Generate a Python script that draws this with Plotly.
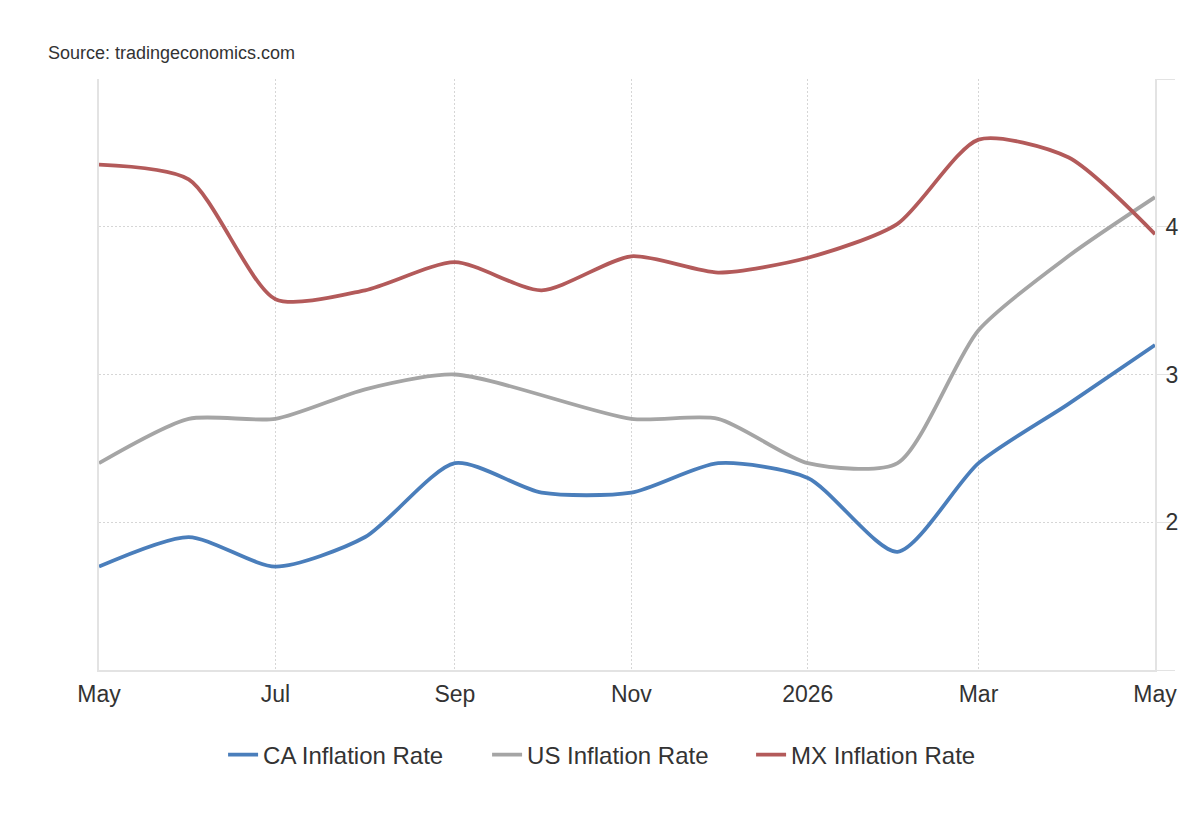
import plotly.graph_objects as go

# monthly observations, May 2025 - May 2026
months = ['2025-05-01', '2025-06-01', '2025-07-01', '2025-08-01', '2025-09-01',
          '2025-10-01', '2025-11-01', '2025-12-01', '2026-01-01', '2026-02-01',
          '2026-03-01', '2026-04-01', '2026-05-01']
ca_rate = [1.7, 1.9, 1.7, 1.9, 2.4, 2.2, 2.2, 2.4, 2.3, 1.8, 2.4, 2.8, 3.2]
us_rate = [2.4, 2.7, 2.7, 2.9, 3.0, None, 2.7, 2.7, 2.4, 2.4, 3.3, 3.8, 4.2]
mx_rate = [4.42, 4.32, 3.51, 3.57, 3.76, 3.57, 3.80, 3.69, 3.79, 4.02, 4.59, 4.47, 3.95]

tick_dates = ['2025-05-01', '2025-07-01', '2025-09-01', '2025-11-01',
              '2026-01-01', '2026-03-01', '2026-05-01']
tick_labels = ['May', 'Jul', 'Sep', 'Nov', '2026', 'Mar', 'May']
y_ticks = [1, 2, 3, 4, 5]
y_labels = ['', '2', '3', '4', '']

font_name = 'Liberation Sans, Arial, sans-serif'
text_color = '#333333'
grid_color = '#d6d6d6'

fig = go.Figure()
for name, vals, color in [('CA Inflation Rate', ca_rate, '#4a7ebb'),
                          ('US Inflation Rate', us_rate, '#a5a5a5'),
                          ('MX Inflation Rate', mx_rate, '#b35a5a')]:
    fig.add_trace(go.Scatter(
        x=months, y=vals, name=name, mode='lines', connectgaps=True,
        line=dict(color=color, width=3.8, shape='spline', smoothing=0.7),
    ))

# page has an 8px body margin, so everything is shifted by that
fig.update_layout(
    width=1200, height=820,
    margin=dict(l=91, r=53, t=71, b=158),
    paper_bgcolor='white', plot_bgcolor='white',
    font=dict(family=font_name, color=text_color, size=20),
    title=dict(text='Source: tradingeconomics.com', x=40 / 1200, xref='container',
               xanchor='left', y=1 - 45 / 820, yref='container', yanchor='middle',
               font=dict(size=18, color=text_color)),
    showlegend=True,
    legend=dict(orientation='h', x=0.4925, xanchor='center', y=-0.144, yanchor='middle',
                font=dict(size=24, color=text_color),
                entrywidth=219, entrywidthmode='pixels'),
)

fig.update_xaxes(
    type='date', range=['2025-05-01', '2026-05-01'],
    tickvals=tick_dates, ticktext=tick_labels,
    showgrid=True, gridcolor=grid_color, griddash='2px,2px', gridwidth=1,
    showline=True, linecolor='#e3e3e3', linewidth=2,
    ticks='', ticklabelstandoff=2,
    tickfont=dict(size=23, color=text_color),
    zeroline=False,
)
fig.update_yaxes(
    side='right', range=[1, 5],
    tickvals=y_ticks, ticktext=y_labels,
    showgrid=True, gridcolor=grid_color, griddash='2px,2px', gridwidth=1,
    showline=True, linecolor='#e3e3e3', linewidth=2, mirror=True,
    ticks='outside', ticklen=18, tickcolor='#e3e3e3', tickwidth=1,
    ticklabelstandoff=-14,
    tickfont=dict(size=23, color=text_color),
    zeroline=False,
)

fig.write_html('out.html')
